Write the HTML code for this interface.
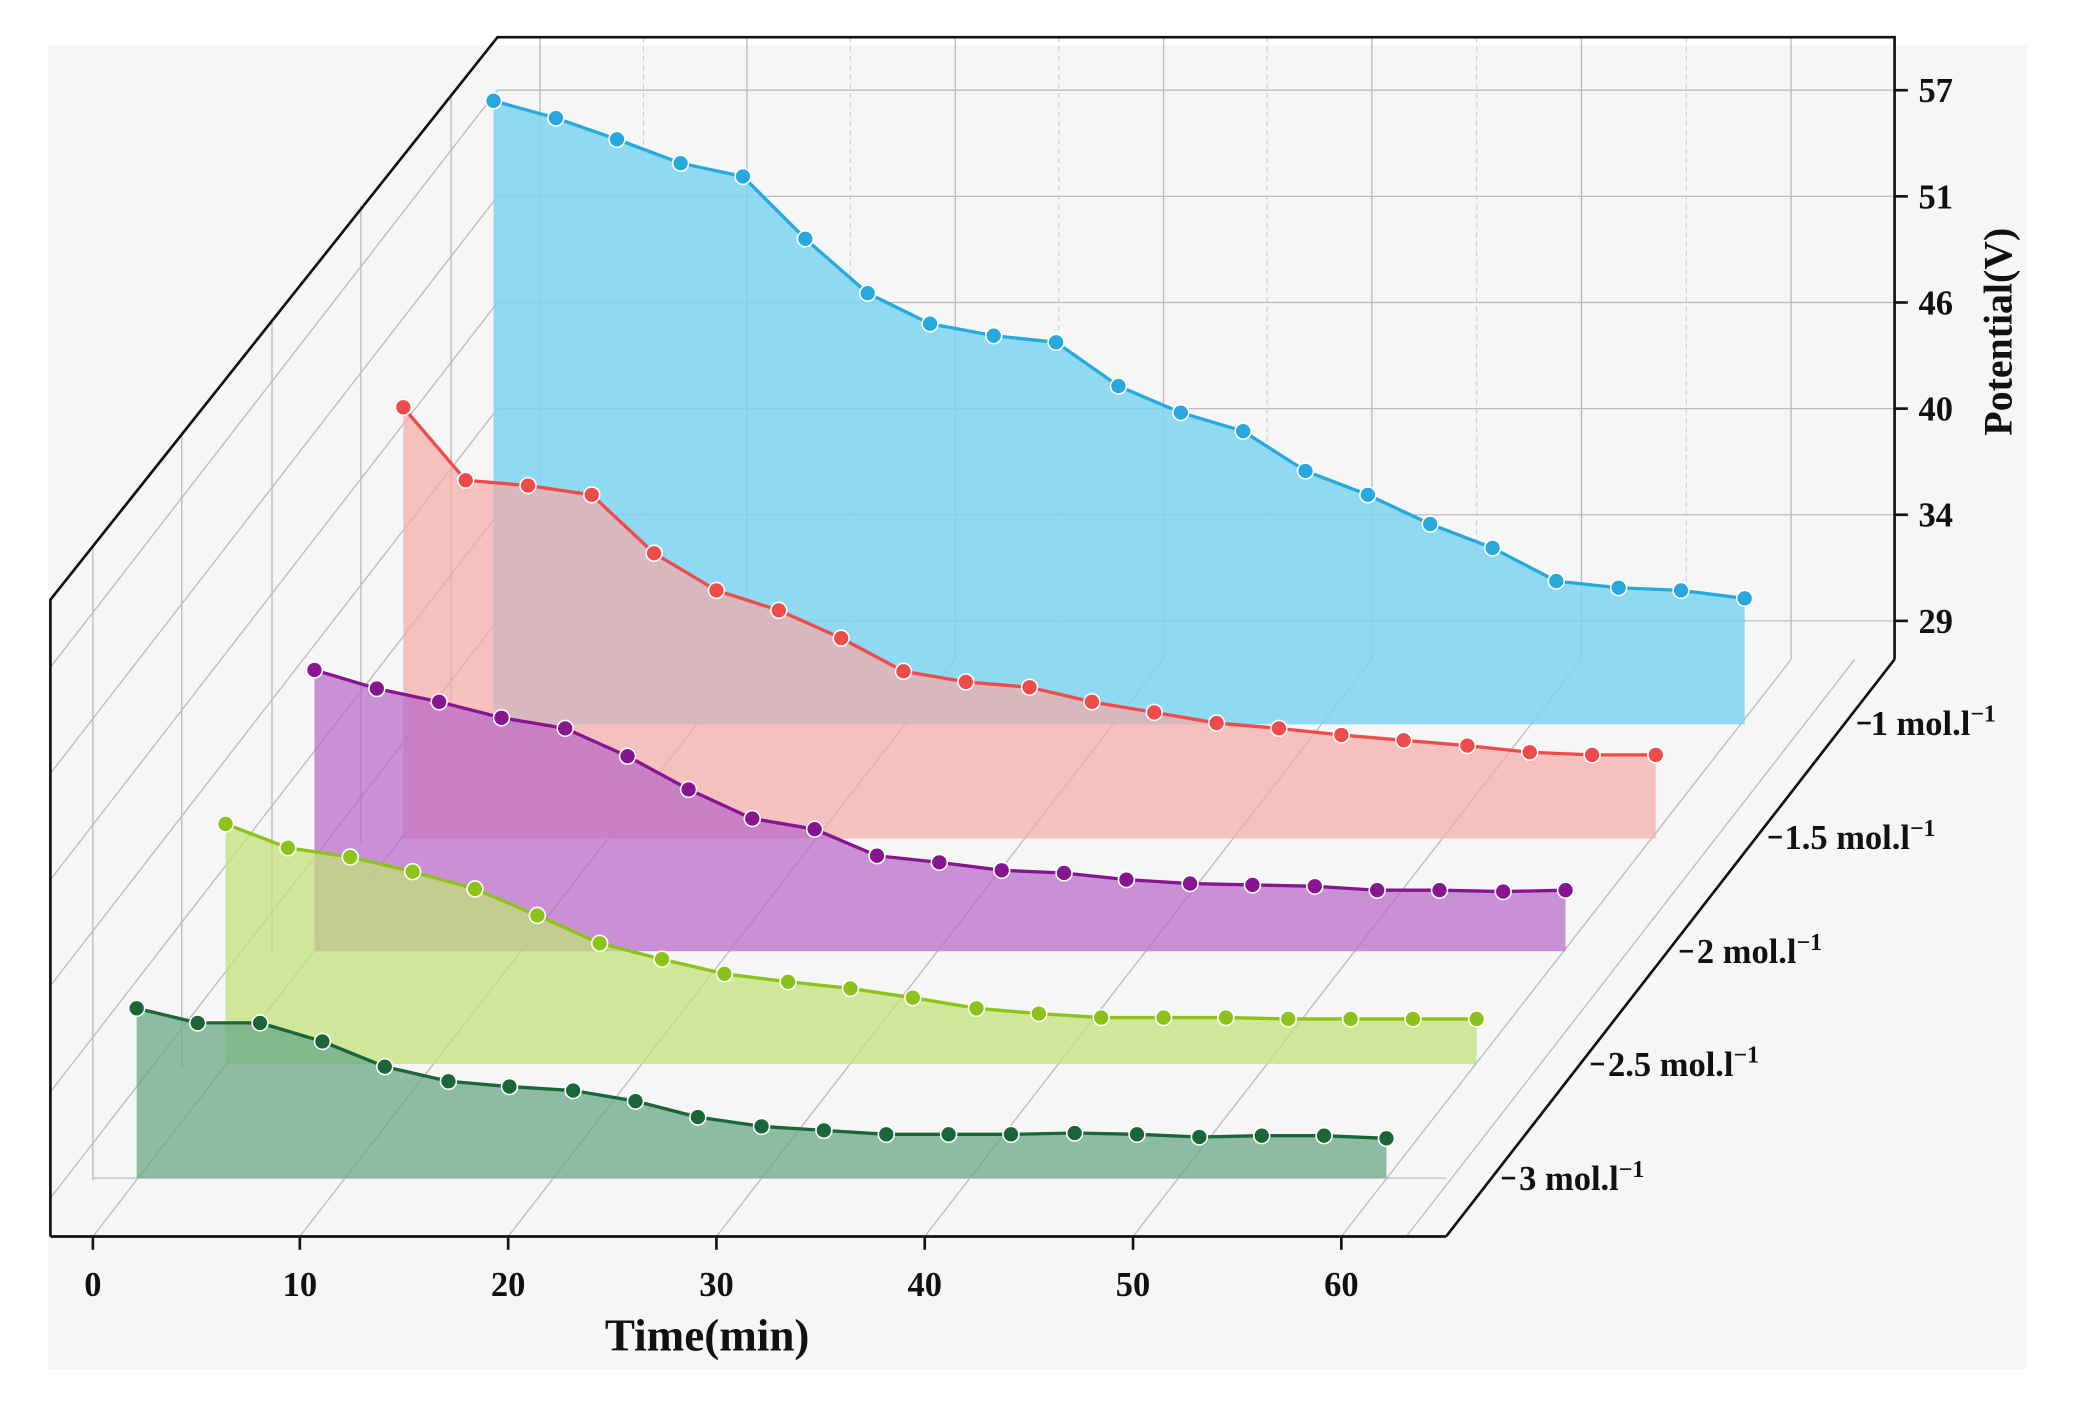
<!DOCTYPE html>
<html><head><meta charset="utf-8"><style>
html,body{margin:0;padding:0;background:#fff;}
svg{display:block;}
text{font-family:"Liberation Serif",serif;font-weight:bold;fill:#111;}
</style></head><body>
<svg width="2079" height="1401" viewBox="0 0 1567 1056" preserveAspectRatio="none" xmlns="http://www.w3.org/2000/svg">
<rect x="0" y="0" width="1567" height="1056" fill="#fff"/>
<rect x="36" y="34" width="1492" height="998" fill="#f6f6f6"/>
<g stroke="#bbb" stroke-width="1" fill="none">
<line x1="375" y1="68" x2="1428" y2="68"/><line x1="375" y1="148" x2="1428" y2="148"/>
<line x1="375" y1="228" x2="1428" y2="228"/><line x1="375" y1="308" x2="1428" y2="308"/>
<line x1="375" y1="388" x2="1428" y2="388"/><line x1="375" y1="468" x2="1428" y2="468"/>
<line x1="407" y1="28" x2="407" y2="497"/><line x1="563" y1="28" x2="563" y2="497"/>
<line x1="720" y1="28" x2="720" y2="497"/><line x1="877" y1="28" x2="877" y2="497"/>
<line x1="1034" y1="28" x2="1034" y2="497"/><line x1="1192" y1="28" x2="1192" y2="497"/>
<line x1="1350" y1="28" x2="1350" y2="497"/>
<line x1="38" y1="503" x2="375" y2="68"/><line x1="38" y1="583" x2="375" y2="148"/>
<line x1="38" y1="663" x2="375" y2="228"/><line x1="38" y1="743" x2="375" y2="308"/>
<line x1="38" y1="823" x2="375" y2="388"/><line x1="38" y1="903" x2="375" y2="468"/>
<line x1="70" y1="412" x2="70" y2="890"/><line x1="137" y1="326" x2="137" y2="805"/>
<line x1="205" y1="240" x2="205" y2="720"/><line x1="272" y1="155" x2="272" y2="635"/>
<line x1="340" y1="70" x2="340" y2="550"/>
<line x1="70" y1="932" x2="407" y2="497"/><line x1="226" y1="932" x2="563" y2="497"/>
<line x1="383" y1="932" x2="720" y2="497"/><line x1="540" y1="932" x2="877" y2="497"/>
<line x1="697" y1="932" x2="1034" y2="497"/><line x1="854" y1="932" x2="1192" y2="497"/>
<line x1="1011" y1="932" x2="1350" y2="497"/>
<line x1="70" y1="888" x2="1090" y2="888"/><line x1="1060" y1="932" x2="1398" y2="497"/>
</g>
<g stroke="#ccc" stroke-width="0.8" stroke-dasharray="4,3" fill="none">
<line x1="485" y1="28" x2="485" y2="497"/><line x1="641" y1="28" x2="641" y2="497"/>
<line x1="798" y1="28" x2="798" y2="497"/><line x1="955" y1="28" x2="955" y2="497"/>
<line x1="1113" y1="28" x2="1113" y2="497"/><line x1="1271" y1="28" x2="1271" y2="497"/>
</g>
<g stroke-width="2.5" stroke-linejoin="round">
<polygon fill="#7dd3f0" fill-opacity="0.85" stroke="none" points="372,76 419,89 465,105 513,123 560,133 607,180 654,221 701,244 749,253 796,258 843,291 890,311 937,325 984,355 1031,373 1078,395 1125,413 1173,438 1220,443 1267,445 1315,451 1315,546 372,546"/>
<polyline fill="none" stroke="#27a9dd" points="372,76 419,89 465,105 513,123 560,133 607,180 654,221 701,244 749,253 796,258 843,291 890,311 937,325 984,355 1031,373 1078,395 1125,413 1173,438 1220,443 1267,445 1315,451"/>
<polygon fill="#f7a9a8" fill-opacity="0.7" stroke="none" points="304,307 351,362 398,366 446,373 493,417 540,445 587,460 634,481 681,506 728,514 776,518 823,529 870,537 917,545 964,549 1011,554 1058,558 1106,562 1153,567 1200,569 1248,569 1248,632 304,632"/>
<polyline fill="none" stroke="#ee4b4b" points="304,307 351,362 398,366 446,373 493,417 540,445 587,460 634,481 681,506 728,514 776,518 823,529 870,537 917,545 964,549 1011,554 1058,558 1106,562 1153,567 1200,569 1248,569"/>
<polygon fill="#b865c8" fill-opacity="0.7" stroke="none" points="237,505 284,519 331,529 378,541 426,549 473,570 519,595 567,617 614,625 661,645 708,650 755,656 802,658 849,663 897,666 944,667 991,668 1038,671 1085,671 1133,672 1180,671 1180,717 237,717"/>
<polyline fill="none" stroke="#86168f" points="237,505 284,519 331,529 378,541 426,549 473,570 519,595 567,617 614,625 661,645 708,650 755,656 802,658 849,663 897,666 944,667 991,668 1038,671 1085,671 1133,672 1180,671"/>
<polygon fill="#c3e07a" fill-opacity="0.75" stroke="none" points="170,621 217,639 264,646 311,657 358,670 405,690 452,711 499,723 546,734 594,740 641,745 688,752 736,760 783,764 830,767 877,767 924,767 971,768 1018,768 1065,768 1113,768 1113,802 170,802"/>
<polyline fill="none" stroke="#8cc21a" points="170,621 217,639 264,646 311,657 358,670 405,690 452,711 499,723 546,734 594,740 641,745 688,752 736,760 783,764 830,767 877,767 924,767 971,768 1018,768 1065,768 1113,768"/>
<polygon fill="#6aa88a" fill-opacity="0.75" stroke="none" points="103,760 149,771 196,771 243,785 290,804 338,815 384,819 432,822 479,830 526,842 574,849 621,852 668,855 715,855 762,855 810,854 857,855 904,857 951,856 998,856 1045,858 1045,888 103,888"/>
<polyline fill="none" stroke="#1b6636" points="103,760 149,771 196,771 243,785 290,804 338,815 384,819 432,822 479,830 526,842 574,849 621,852 668,855 715,855 762,855 810,854 857,855 904,857 951,856 998,856 1045,858"/>
</g>
<g stroke="#fff" stroke-width="1.2">
<g fill="#27a9dd"><circle cx="372" cy="76" r="6"/><circle cx="419" cy="89" r="6"/><circle cx="465" cy="105" r="6"/><circle cx="513" cy="123" r="6"/><circle cx="560" cy="133" r="6"/><circle cx="607" cy="180" r="6"/><circle cx="654" cy="221" r="6"/><circle cx="701" cy="244" r="6"/><circle cx="749" cy="253" r="6"/><circle cx="796" cy="258" r="6"/><circle cx="843" cy="291" r="6"/><circle cx="890" cy="311" r="6"/><circle cx="937" cy="325" r="6"/><circle cx="984" cy="355" r="6"/><circle cx="1031" cy="373" r="6"/><circle cx="1078" cy="395" r="6"/><circle cx="1125" cy="413" r="6"/><circle cx="1173" cy="438" r="6"/><circle cx="1220" cy="443" r="6"/><circle cx="1267" cy="445" r="6"/><circle cx="1315" cy="451" r="6"/></g>
<g fill="#ee4b4b"><circle cx="304" cy="307" r="6"/><circle cx="351" cy="362" r="6"/><circle cx="398" cy="366" r="6"/><circle cx="446" cy="373" r="6"/><circle cx="493" cy="417" r="6"/><circle cx="540" cy="445" r="6"/><circle cx="587" cy="460" r="6"/><circle cx="634" cy="481" r="6"/><circle cx="681" cy="506" r="6"/><circle cx="728" cy="514" r="6"/><circle cx="776" cy="518" r="6"/><circle cx="823" cy="529" r="6"/><circle cx="870" cy="537" r="6"/><circle cx="917" cy="545" r="6"/><circle cx="964" cy="549" r="6"/><circle cx="1011" cy="554" r="6"/><circle cx="1058" cy="558" r="6"/><circle cx="1106" cy="562" r="6"/><circle cx="1153" cy="567" r="6"/><circle cx="1200" cy="569" r="6"/><circle cx="1248" cy="569" r="6"/></g>
<g fill="#86168f"><circle cx="237" cy="505" r="6"/><circle cx="284" cy="519" r="6"/><circle cx="331" cy="529" r="6"/><circle cx="378" cy="541" r="6"/><circle cx="426" cy="549" r="6"/><circle cx="473" cy="570" r="6"/><circle cx="519" cy="595" r="6"/><circle cx="567" cy="617" r="6"/><circle cx="614" cy="625" r="6"/><circle cx="661" cy="645" r="6"/><circle cx="708" cy="650" r="6"/><circle cx="755" cy="656" r="6"/><circle cx="802" cy="658" r="6"/><circle cx="849" cy="663" r="6"/><circle cx="897" cy="666" r="6"/><circle cx="944" cy="667" r="6"/><circle cx="991" cy="668" r="6"/><circle cx="1038" cy="671" r="6"/><circle cx="1085" cy="671" r="6"/><circle cx="1133" cy="672" r="6"/><circle cx="1180" cy="671" r="6"/></g>
<g fill="#8cc21a"><circle cx="170" cy="621" r="6"/><circle cx="217" cy="639" r="6"/><circle cx="264" cy="646" r="6"/><circle cx="311" cy="657" r="6"/><circle cx="358" cy="670" r="6"/><circle cx="405" cy="690" r="6"/><circle cx="452" cy="711" r="6"/><circle cx="499" cy="723" r="6"/><circle cx="546" cy="734" r="6"/><circle cx="594" cy="740" r="6"/><circle cx="641" cy="745" r="6"/><circle cx="688" cy="752" r="6"/><circle cx="736" cy="760" r="6"/><circle cx="783" cy="764" r="6"/><circle cx="830" cy="767" r="6"/><circle cx="877" cy="767" r="6"/><circle cx="924" cy="767" r="6"/><circle cx="971" cy="768" r="6"/><circle cx="1018" cy="768" r="6"/><circle cx="1065" cy="768" r="6"/><circle cx="1113" cy="768" r="6"/></g>
<g fill="#1b6636"><circle cx="103" cy="760" r="6"/><circle cx="149" cy="771" r="6"/><circle cx="196" cy="771" r="6"/><circle cx="243" cy="785" r="6"/><circle cx="290" cy="804" r="6"/><circle cx="338" cy="815" r="6"/><circle cx="384" cy="819" r="6"/><circle cx="432" cy="822" r="6"/><circle cx="479" cy="830" r="6"/><circle cx="526" cy="842" r="6"/><circle cx="574" cy="849" r="6"/><circle cx="621" cy="852" r="6"/><circle cx="668" cy="855" r="6"/><circle cx="715" cy="855" r="6"/><circle cx="762" cy="855" r="6"/><circle cx="810" cy="854" r="6"/><circle cx="857" cy="855" r="6"/><circle cx="904" cy="857" r="6"/><circle cx="951" cy="856" r="6"/><circle cx="998" cy="856" r="6"/><circle cx="1045" cy="858" r="6"/></g>
</g>
<g stroke="#111" stroke-width="2" fill="none">
<polyline points="38,932 38,452 375,28 1428,28 1428,497"/>
<line x1="38" y1="932" x2="1090" y2="932"/>
<line x1="1090" y1="932" x2="1428" y2="497"/>
<line x1="70" y1="932" x2="70" y2="942"/><line x1="226" y1="932" x2="226" y2="942"/><line x1="383" y1="932" x2="383" y2="942"/><line x1="540" y1="932" x2="540" y2="942"/><line x1="697" y1="932" x2="697" y2="942"/><line x1="854" y1="932" x2="854" y2="942"/><line x1="1011" y1="932" x2="1011" y2="942"/>
<line x1="1428" y1="68" x2="1438" y2="68"/><line x1="1428" y1="148" x2="1438" y2="148"/><line x1="1428" y1="228" x2="1438" y2="228"/><line x1="1428" y1="308" x2="1438" y2="308"/><line x1="1428" y1="388" x2="1438" y2="388"/><line x1="1428" y1="468" x2="1438" y2="468"/>
<line x1="1400" y1="545" x2="1410" y2="545"/><line x1="1333" y1="631" x2="1343" y2="631"/><line x1="1266" y1="717" x2="1276" y2="717"/><line x1="1199" y1="802" x2="1209" y2="802"/><line x1="1132" y1="888" x2="1142" y2="888"/>
</g>
<g font-size="26">
<text x="70" y="977" text-anchor="middle">0</text><text x="226" y="977" text-anchor="middle">10</text><text x="383" y="977" text-anchor="middle">20</text><text x="540" y="977" text-anchor="middle">30</text><text x="697" y="977" text-anchor="middle">40</text><text x="854" y="977" text-anchor="middle">50</text><text x="1011" y="977" text-anchor="middle">60</text>
<text x="1446" y="77">57</text><text x="1446" y="157">51</text><text x="1446" y="237">46</text><text x="1446" y="317">40</text><text x="1446" y="397">34</text><text x="1446" y="477">29</text>
<text x="1410" y="554">1 mol.l<tspan dy="-10" font-size="18">−1</tspan></text>
<text x="1345" y="640">1.5 mol.l<tspan dy="-10" font-size="18">−1</tspan></text>
<text x="1279" y="726">2 mol.l<tspan dy="-10" font-size="18">−1</tspan></text>
<text x="1212" y="811">2.5 mol.l<tspan dy="-10" font-size="18">−1</tspan></text>
<text x="1145" y="897">3 mol.l<tspan dy="-10" font-size="18">−1</tspan></text>
</g>
<text x="533" y="1018" text-anchor="middle" font-size="34">Time(min)</text>
<text transform="translate(1516,250) rotate(-90)" text-anchor="middle" font-size="30">Potential(V)</text>
</svg>
</body></html>
